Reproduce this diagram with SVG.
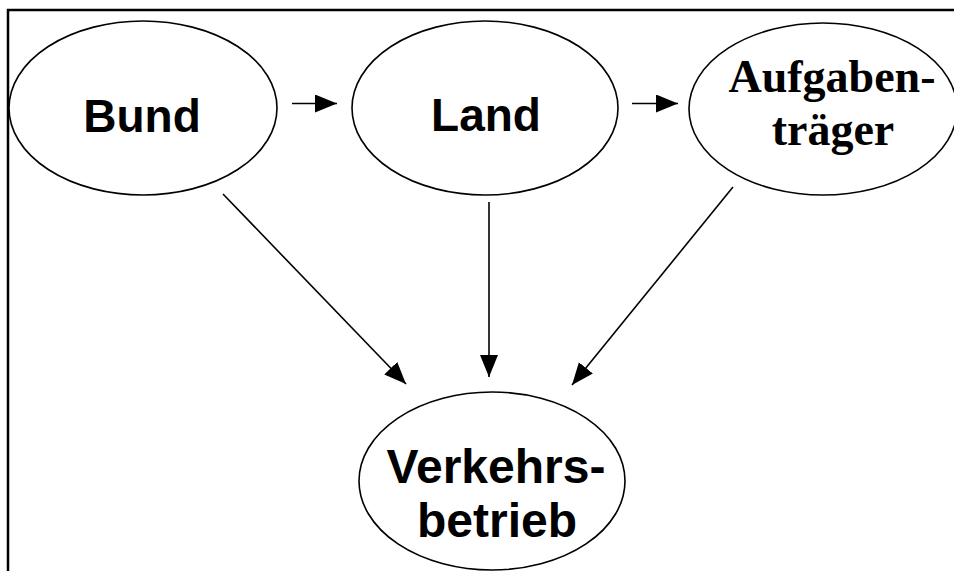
<svg xmlns="http://www.w3.org/2000/svg" width="954" height="571" viewBox="0 0 954 571">
  <defs>
    <style>
      .frame { fill: none; stroke: #000; stroke-width: 2.5; }
      .node ellipse { fill: #fff; stroke: #000; stroke-width: 1.6; }
      .sans { font-family: "Liberation Sans", Arial, sans-serif; font-weight: bold; font-size: 46px; fill: #000; text-anchor: middle; }
      .big { font-size: 48px; }
      .serif { font-family: "Liberation Serif", "Times New Roman", serif; font-weight: bold; font-size: 46px; fill: #000; text-anchor: middle; }
      .edge { fill: none; stroke: #000; stroke-width: 1.6; marker-end: url(#head); }
    </style>
    <marker id="head" markerUnits="userSpaceOnUse" markerWidth="24" markerHeight="20" refX="22" refY="9" orient="auto">
      <path d="M0,0 L22,9 L0,18 Z" fill="#000"/>
    </marker>
  </defs>

  <rect width="954" height="571" fill="#fff"/>

  <!-- page frame: top rule and left rule -->
  <path class="frame" d="M8,571 L8,10 L954,10"/>

  <g id="bund" class="node">
    <ellipse cx="143" cy="108" rx="134" ry="87"/>
    <text class="sans" x="142" y="132">Bund</text>
  </g>

  <g id="land" class="node">
    <ellipse cx="485" cy="108" rx="133" ry="87"/>
    <text class="sans" x="486" y="131">Land</text>
  </g>

  <g id="aufgabentraeger" class="node">
    <ellipse cx="823" cy="109" rx="134" ry="86"/>
    <text class="serif" x="832" y="92">Aufgaben-</text>
    <text class="serif" x="833" y="145">träger</text>
  </g>

  <g id="verkehrsbetrieb" class="node">
    <ellipse cx="492" cy="481" rx="133" ry="89"/>
    <text class="sans big" x="496" y="483">Verkehrs-</text>
    <text class="sans big" x="497" y="537">betrieb</text>
  </g>

  <g id="connectors">
    <line class="edge" x1="292" y1="103.5" x2="337" y2="103.5"/>
    <line class="edge" x1="632" y1="103.5" x2="678" y2="103.5"/>
    <line class="edge" x1="223" y1="194" x2="406" y2="384"/>
    <line class="edge" x1="489" y1="202" x2="489" y2="377"/>
    <line class="edge" x1="733" y1="187" x2="572" y2="385"/>
  </g>
</svg>
